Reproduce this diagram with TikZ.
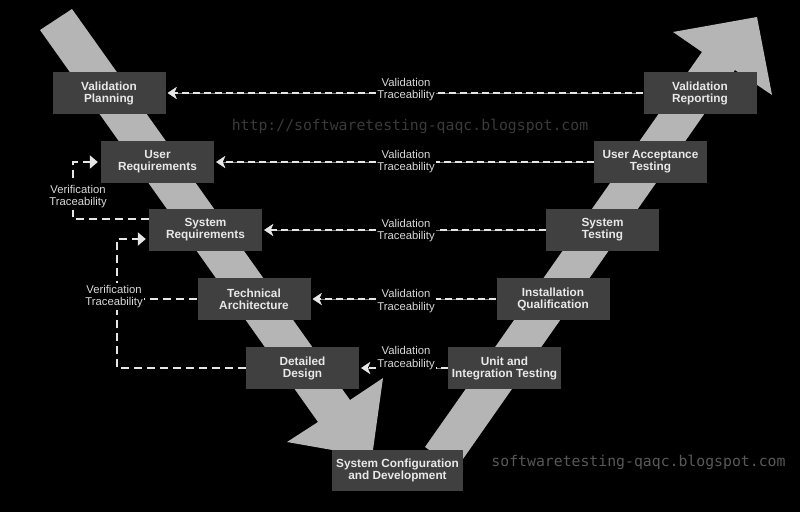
\documentclass[tikz,border=0pt]{standalone}
\usepackage{fontspec}
\setmainfont{Liberation Sans}
\newfontfamily\wmfont{DejaVu Sans Mono}
\usetikzlibrary{arrows.meta}
\definecolor{band}{HTML}{B5B5B5}
\definecolor{boxfill}{HTML}{404040}
\definecolor{boxtext}{HTML}{E8E8E8}
\definecolor{lbltext}{HTML}{D8D8D8}
\definecolor{dashcol}{HTML}{E6E6E6}
\definecolor{wmdark}{HTML}{3A3A3A}
\definecolor{wmlight}{HTML}{585858}

\begin{document}
\begin{tikzpicture}[x=1pt,y=-1pt,
  stage/.style={fill=boxfill,text=boxtext,font=\bfseries\fontsize{11.8}{12}\selectfont,
    align=center,minimum width=113pt,minimum height=42pt,inner sep=0pt},
  tlabel/.style={fill=black,text=lbltext,font=\fontsize{11.3}{12.5}\selectfont,align=center,inner sep=1.5pt},
  vline/.style={draw=dashcol,line width=2.2pt,dash pattern=on 7pt off 4pt,
    preaction={draw=gray,line width=0.6pt,solid}},
  vrf/.style={draw=dashcol,line width=2.4pt,dash pattern=on 8pt off 5pt},
  vtip/.style={-{Stealth[length=9pt,width=12pt,inset=2.5pt]},shorten >=2pt},
  ftip/.style={-{Triangle[length=8pt,width=13pt]},shorten >=3pt}]
  \fill[black] (0,0) rectangle (800,512);
  \useasboundingbox (0,0) rectangle (800,512);
  % the two arms of the V
  \fill[band] (40,30)--(72,9)--(350,400)--(383,378)--(372,457)--(287,442)--(318,422)--cycle;
  \fill[band] (425,447)--(702,52)--(673,32)--(757,17)--(772,95)--(735,70)--(456,469)--cycle;
  \node[text=wmdark,font=\wmfont\fontsize{14.8}{15}\selectfont] (url) at (410,126) {http://softwaretesting-qaqc.blogspot.com};
  \node[text=wmlight,font=\wmfont\fontsize{14.8}{15}\selectfont] (blog) at (638.5,462) {softwaretesting-qaqc.blogspot.com};
  % stages
  \node[stage] (vp) at (109,93) {Validation\\Planning};
  \node[stage] (ur) at (157.5,162) {User\\Requirements};
  \node[stage] (sr) at (205.5,230) {System\\Requirements};
  \node[stage] (ta) at (254,299) {Technical\\Architecture};
  \node[stage] (dd) at (302.5,368) {Detailed\\Design};
  \node[stage] (vr) at (700,93) {Validation\\Reporting};
  \node[stage] (uat) at (650.5,162) {User Acceptance\\Testing};
  \node[stage] (st) at (602.5,230) {System\\Testing};
  \node[stage] (iq) at (553,299) {Installation\\Qualification};
  \node[stage] (uit) at (504.5,368) {Unit and\\Integration Testing};
  \node[stage,minimum width=131pt,minimum height=41pt] (scd) at (397.5,470.5) {System Configuration\\and Development};
  % validation traceability
  \foreach \n/\y in {1/89.5,2/161.5,3/230.5,4/301,5/358}
    \node[tlabel] (vt\n) at (406,\y) {Validation\\Traceability};
  \foreach \n/\a/\b in {1/vr/vp,2/uat/ur,3/st/sr,4/iq/ta,5/uit/dd}{
    \draw[vline] (\a.west) -- (\a.west -| vt\n.east);
    \draw[vline,vtip] (vt\n.west |- \b.east) -- (\b.east);
  }
  % verification traceability
  \draw[vrf,ftip] ([yshift=11pt]sr.west) -- ++(-76,0) |- (ur.west);
  \node[tlabel] (vf1) at (78,196.5) {Verification\\Traceability};
  \draw[vrf,ftip] (dd.west) -- ++(-129,0) |- ([yshift=-9pt]sr.west);
  \node[tlabel] (vf2) at (114,296.5) {Verification\\Traceability};
  \draw[vrf] (ta.west) -- (ta.west -| vf2.east);
\end{tikzpicture}
\end{document}
